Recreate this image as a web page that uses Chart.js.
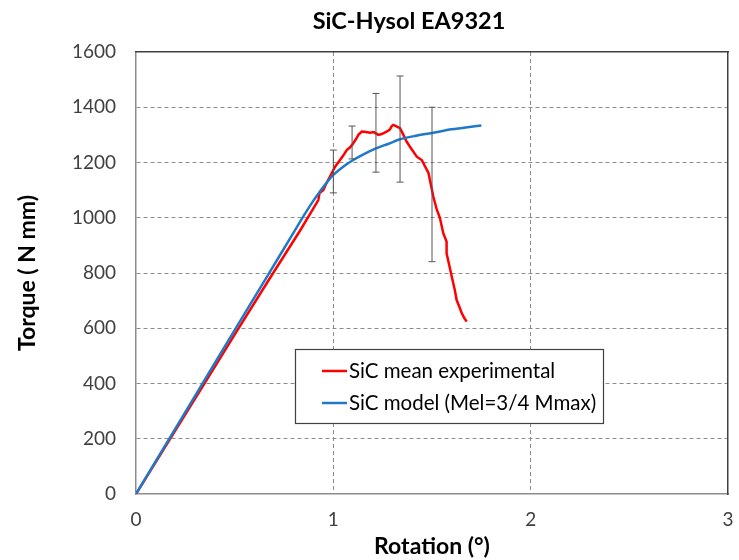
<!DOCTYPE html>
<html>
<head>
<meta charset="utf-8">
<script src="https://cdn.jsdelivr.net/npm/chart.js@4"></script>
<style>
  html, body { margin: 0; padding: 0; background: #fff; }
  #wrap { width: 739px; height: 560px; position: relative; }
</style>
</head>
<body>
<div id="wrap"><canvas id="c" width="739" height="560"></canvas></div>
<script>
// ---- data ----
const chartTitle = 'SiC-Hysol EA9321';
const xAxisTitle = 'Rotation (°)';
const yAxisTitle = 'Torque ( N mm)';

const expLabel = 'SiC mean experimental';
const expX = [0, 0.17, 0.345, 0.507, 0.679, 0.831, 0.924, 0.93, 0.949, 0.965, 0.983, 1.009, 1.034, 1.05, 1.068, 1.085, 1.101, 1.115, 1.127, 1.144, 1.165, 1.186, 1.205, 1.228, 1.245, 1.27, 1.285, 1.296, 1.304, 1.318, 1.338, 1.355, 1.372, 1.39, 1.423, 1.448, 1.482, 1.507, 1.524, 1.54, 1.557, 1.574, 1.574, 1.59, 1.6, 1.615, 1.625, 1.64, 1.651, 1.665, 1.676];
const expY = [0, 196, 398, 585, 782, 953, 1064, 1090, 1100, 1125, 1149, 1185, 1209, 1225, 1245, 1255, 1270, 1285, 1300, 1312, 1310, 1308, 1310, 1300, 1303, 1312, 1318, 1332, 1336, 1332, 1324, 1300, 1275, 1255, 1221, 1209, 1162, 1076, 1030, 1000, 944, 913, 871, 820, 787, 740, 702, 675, 654, 635, 624];

const modelLabel = 'SiC model (Mel=3/4 Mmax)';
const modelX = [0, 0.333, 0.5, 0.654, 0.8, 0.855, 0.9, 0.924, 0.95, 0.975, 1.0, 1.05, 1.101, 1.16, 1.216, 1.28, 1.338, 1.42, 1.507, 1.6, 1.68, 1.75];
const modelY = [0, 395, 593, 775, 948, 1013, 1063, 1087, 1112, 1135, 1155, 1185, 1209, 1232, 1251, 1268, 1284, 1297, 1308, 1320, 1328, 1334];

const errX    = [1.0, 1.095, 1.216, 1.338, 1.5];
const errLow  = [1090, 1213, 1165, 1129, 841];
const errHigh = [1245, 1332, 1450, 1513, 1400];

const xTicks = [0, 1, 2, 3];
const yTicks = [0, 200, 400, 600, 800, 1000, 1200, 1400, 1600];

// ---- build datasets ----
const toPts = (xs, ys) => xs.map((x, i) => ({ x: x, y: ys[i] }));
const errPts = [];
errX.forEach((x, i) => {
  errPts.push({ x: x, y: errLow[i] });
  errPts.push({ x: x, y: errHigh[i] });
  errPts.push({ x: x, y: null });
});

const FONT = 'Lato, "Open Sans", "Liberation Sans", sans-serif';

const titlePlugin = {
  id: 'topTitle',
  afterDraw(chart) {
    const ctx = chart.ctx;
    ctx.save();
    ctx.font = 'bold 23.5px ' + FONT;
    ctx.fillStyle = '#000';
    ctx.textAlign = 'center';
    ctx.textBaseline = 'middle';
    ctx.fillText(chartTitle, 409, 21);
    ctx.restore();
  }
};

const legendPlugin = {
  id: 'boxLegend',
  afterDraw(chart) {
    const ctx = chart.ctx;
    const items = chart.data.datasets.filter(d => d.showInLegend);
    const bx = 295, by = 349, bw = 308, bh = 74;
    ctx.save();
    ctx.fillStyle = '#fff';
    ctx.fillRect(bx, by, bw, bh);
    ctx.strokeStyle = '#404040';
    ctx.lineWidth = 1.2;
    ctx.strokeRect(bx + 0.5, by + 0.5, bw, bh);
    ctx.font = '20.5px ' + FONT;
    ctx.textBaseline = 'middle';
    ctx.textAlign = 'left';
    items.forEach((d, i) => {
      const yy = by + 22 + i * 32;
      ctx.strokeStyle = d.borderColor;
      ctx.lineWidth = 2.5;
      ctx.beginPath();
      ctx.moveTo(bx + 27, yy);
      ctx.lineTo(bx + 52, yy);
      ctx.stroke();
      ctx.fillStyle = '#000';
      ctx.fillText(d.label, bx + 54, yy);
    });
    ctx.restore();
  }
};

new Chart(document.getElementById('c'), {
  type: 'scatter',
  data: {
    datasets: [
      {
        label: 'error bars',
        data: errPts,
        showLine: true,
        spanGaps: false,
        borderColor: '#555',
        borderWidth: 1,
        pointStyle: 'line',
        pointRadius: 3.5,
        pointBorderColor: '#555',
        pointBorderWidth: 1,
        order: 0
      },
      {
        label: expLabel,
        showInLegend: true,
        data: toPts(expX, expY),
        showLine: true,
        borderColor: '#ff0000',
        borderWidth: 2.5,
        pointRadius: 0,
        tension: 0,
        order: 2
      },
      {
        label: modelLabel,
        showInLegend: true,
        data: toPts(modelX, modelY),
        showLine: true,
        borderColor: '#1f78c8',
        borderWidth: 2.5,
        pointRadius: 0,
        cubicInterpolationMode: 'monotone',
        order: 1
      }
    ]
  },
  options: {
    responsive: false,
    animation: false,
    layout: { padding: { left: 0, right: 11, top: 52, bottom: 0 } },
    plugins: {
      legend: { display: false },
      title: { display: false },
      tooltip: { enabled: false }
    },
    scales: {
      x: {
        type: 'linear',
        min: 0, max: 3,
        afterBuildTicks: s => { s.ticks = xTicks.map(v => ({ value: v })); },
        afterFit: s => { s.height = 66; s.paddingLeft = 0; s.paddingRight = 0; },
        grid: {
          color: ctx => (ctx.tick && (ctx.tick.value === 0 || ctx.tick.value === 3)) ? 'rgba(0,0,0,0)' : '#8c8c8c',
          drawTicks: false,
          lineWidth: 1
        },
        border: { display: true, color: '#8c8c8c', width: 1.5, dash: [4, 3] },
        ticks: { color: '#404040', font: { family: FONT, size: 19 }, padding: 14, callback: v => String(v) },
        title: { display: true, text: xAxisTitle, color: '#000', font: { family: FONT, size: 23, weight: 'bold' }, padding: { top: 0, bottom: 0 } }
      },
      y: {
        type: 'linear',
        min: 0, max: 1600,
        afterBuildTicks: s => { s.ticks = yTicks.map(v => ({ value: v })); },
        afterFit: s => { s.width = 136; s.paddingTop = 0; s.paddingBottom = 0; },
        grid: {
          color: ctx => (ctx.tick && (ctx.tick.value === 0 || ctx.tick.value === 1600)) ? 'rgba(0,0,0,0)' : '#8c8c8c',
          drawTicks: false,
          lineWidth: 1
        },
        border: { display: true, color: '#8c8c8c', width: 1.5, dash: [4, 3] },
        ticks: { color: '#404040', font: { family: FONT, size: 19 }, padding: 20, callback: v => String(v) },
        title: { display: true, text: yAxisTitle, color: '#000', font: { family: FONT, size: 23, weight: 'bold' }, padding: { top: 14, bottom: 0 } }
      },
      x2: {
        type: 'linear', position: 'top', min: 0, max: 3,
        afterFit: s => { s.height = 0; s.paddingLeft = 0; s.paddingRight = 0; },
        grid: { display: false, drawTicks: false },
        border: { display: true, color: '#404040', width: 1.5 },
        ticks: { display: false }
      },
      y2: {
        type: 'linear', position: 'right', min: 0, max: 1600,
        afterFit: s => { s.width = 0; s.paddingTop = 0; s.paddingBottom = 0; },
        grid: { display: false, drawTicks: false },
        border: { display: true, color: '#404040', width: 1.5 },
        ticks: { display: false }
      }
    }
  },
  plugins: [titlePlugin, legendPlugin]
});
</script>
</body>
</html>
